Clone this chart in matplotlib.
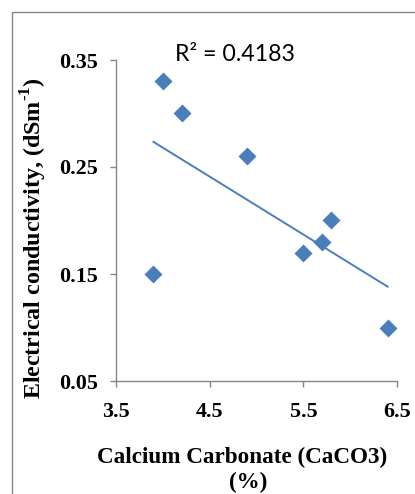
import numpy as np
import matplotlib
matplotlib.use("Agg")
import matplotlib.pyplot as plt
from matplotlib.lines import Line2D

# CaCO3 content (%) and electrical conductivity (dS m^-1)
caco3 = [4.0, 4.2, 4.9, 3.9, 5.5, 5.7, 5.8, 6.4]
ec = [0.33, 0.30, 0.26, 0.15, 0.17, 0.18, 0.20, 0.10]
x_ticks = [3.5, 4.5, 5.5, 6.5]
y_ticks = [0.05, 0.15, 0.25, 0.35]

W, H = 415, 494
serif = "Liberation Serif"
plt.rcParams["mathtext.fontset"] = "custom"
plt.rcParams["mathtext.rm"] = serif + ":bold"
plt.rcParams["mathtext.bf"] = serif + ":bold"
blue = "#4A7EBB"
grey = "#868686"

fig = plt.figure(figsize=(W / 100, H / 100), dpi=100)
fig.patch.set_facecolor("white")

# chart-area frame
fig.add_artist(Line2D([12 / W, 12 / W, 1.0], [0.0, 1 - 12 / H, 1 - 12 / H],
                      transform=fig.transFigure, color=grey, lw=1.0))

ax = fig.add_axes([116 / W, 1 - 381 / H, (397 - 116) / W, (381 - 60) / H])

x = np.array(caco3)
y = np.array(ec)
slope, intercept = np.polyfit(x, y, 1)
pred = slope * x + intercept
r2 = 1 - np.sum((y - pred) ** 2) / np.sum((y - y.mean()) ** 2)

xl = np.array([x.min(), x.max()])
ax.plot(xl, slope * xl + intercept, color=blue, lw=1.4, zorder=2)
ax.plot(x, y, linestyle="none", marker="D", ms=9.5, mfc=blue, mec="none", zorder=3)

ax.set_xlim(3.5, 6.5)
ax.set_ylim(0.05, 0.35)
ax.set_xticks(x_ticks)
ax.set_yticks(y_ticks)
ax.set_xticklabels([f"{v:.1f}" for v in x_ticks])
ax.set_yticklabels([f"{v:.2f}" for v in y_ticks])

for s in ["top", "right"]:
    ax.spines[s].set_visible(False)
for s in ["left", "bottom"]:
    ax.spines[s].set_color(grey)
    ax.spines[s].set_linewidth(1.0)

ax.tick_params(axis="both", direction="out", length=4, width=1.0, color=grey)
ax.tick_params(axis="y", pad=9)
ax.tick_params(axis="x", pad=11)
for lab in ax.get_xticklabels() + ax.get_yticklabels():
    lab.set_fontfamily(serif)
    lab.set_fontweight("bold")
    lab.set_fontsize(15.8)

ax.text(175 / W, 1 - 61 / H, f"R² = {r2:.4f}", transform=fig.transFigure,
        fontfamily="Lato", fontsize=16.7, ha="left", va="baseline")

fig.text(242.5 / W, 1 - 463 / H, "Calcium Carbonate (CaCO3)", fontfamily=serif,
         fontweight="bold", fontsize=16.7, ha="center", va="baseline")
fig.text(248 / W, 1 - 488 / H, "(%)", fontfamily=serif,
         fontweight="bold", fontsize=16.7, ha="center", va="baseline")

fig.text(34 / W, 1 - 238 / H, r"Electrical conductivity, (dSm$^{\text{-1}}$)",
         fontfamily=serif, fontweight="bold", fontsize=17.3, rotation=90,
         ha="center", va="center")

fig.savefig("out.png", dpi=100, facecolor="white")
